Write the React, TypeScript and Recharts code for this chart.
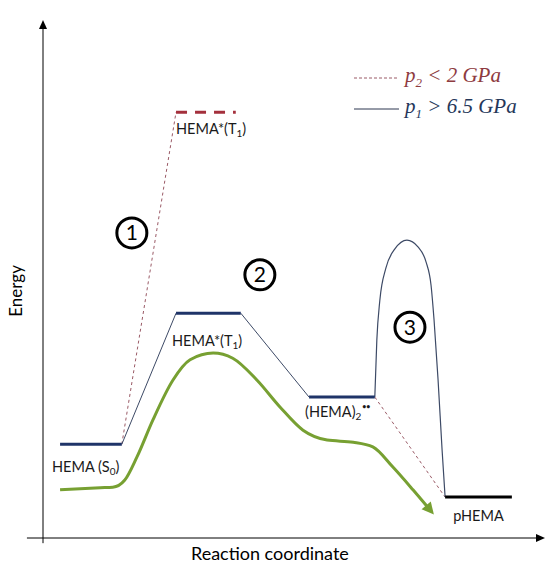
import React from 'react';
import { ComposedChart, Line, XAxis, YAxis, ReferenceLine, ReferenceDot, Legend } from 'recharts';

// energy levels (reaction coordinate 0-100, energy 0-100)
const levelS0 = [{ x: 3.4, y: 18.1 }, { x: 15.7, y: 18.1 }];
const levelT1 = [{ x: 26.5, y: 43.4 }, { x: 39.4, y: 43.4 }];
const levelT1LowP = [{ x: 26.5, y: 82.2 }, { x: 38.4, y: 82.2 }];
const levelDimer = [{ x: 53.0, y: 27.2 }, { x: 66.1, y: 27.2 }];
const levelPoly = [{ x: 80.1, y: 7.9 }, { x: 93.4, y: 7.9 }];

// p1 > 6.5 GPa path
const p1Rise = [{ x: 15.7, y: 18.1 }, { x: 26.5, y: 43.4 }];
const p1Drop = [{ x: 39.4, y: 43.4 }, { x: 53.0, y: 27.2 }];
const p1Barrier = [
  { x: 66.1, y: 27.2 }, { x: 66.5, y: 38.2 }, { x: 67.1, y: 45.9 }, { x: 68.3, y: 52.1 },
  { x: 70.1, y: 55.8 }, { x: 72.5, y: 57.5 }, { x: 74.7, y: 56.2 }, { x: 76.3, y: 53.3 },
  { x: 77.3, y: 48.8 }, { x: 77.9, y: 42.1 }, { x: 78.7, y: 30.5 }, { x: 79.5, y: 17.0 },
  { x: 80.1, y: 7.9 },
];

// p2 < 2 GPa path
const p2Rise = [{ x: 15.7, y: 18.1 }, { x: 26.5, y: 82.2 }];
const p2Drop = [{ x: 66.1, y: 27.2 }, { x: 80.1, y: 7.9 }];

// overall pathway (green)
const pathway = [
  { x: 3.4, y: 9.3 }, { x: 11.4, y: 9.7 }, { x: 13.9, y: 9.8 }, { x: 16.3, y: 11.2 },
  { x: 18.7, y: 15.6 }, { x: 21.9, y: 22.8 }, { x: 25.9, y: 30.5 }, { x: 29.3, y: 34.4 },
  { x: 33.9, y: 35.7 }, { x: 37.8, y: 34.7 }, { x: 42.6, y: 30.5 }, { x: 47.2, y: 25.3 },
  { x: 51.8, y: 20.8 }, { x: 56.6, y: 18.9 }, { x: 61.8, y: 18.5 }, { x: 65.7, y: 17.6 },
  { x: 69.7, y: 13.7 }, { x: 73.7, y: 9.3 }, { x: 77.1, y: 5.4 },
];

const steps = [
  { n: '1', x: 17.7, y: 58.9 },
  { n: '2', x: 43.2, y: 50.8 },
  { n: '3', x: 73.1, y: 40.7 },
];

const stateLabels = [
  { name: 'HEMA*(T', sub: '1', tail: ')', x: 26.5, y: 78.0 },
  { name: 'HEMA*(T', sub: '1', tail: ')', x: 25.7, y: 37.1 },
  { name: 'HEMA (S', sub: '0', tail: ')', x: 1.8, y: 12.7 },
  { name: '(HEMA)', sub: '2', tail: '', dots: true, x: 52.2, y: 23.4 },
  { name: 'pHEMA', sub: '', tail: '', x: 81.7, y: 3.3 },
];

const legendItems = [
  { p: 'p', sub: '2', rest: ' < 2 GPa', dashed: true, color: '#8e3b40', line: '#9a5a66' },
  { p: 'p', sub: '1', rest: ' > 6.5 GPa', dashed: false, color: '#25375a', line: '#2c3650' },
];

const NAVY = '#1f3468';
const THIN = '#3d4a66';
const DASH = '#9a5a66';
const GREEN = '#77a032';
const SANS = 'Lato, "Open Sans", sans-serif';

const LegendBox = () => (
  <div style={{ fontFamily: '"Liberation Serif", serif', fontStyle: 'italic', fontSize: 21 }}>
    {legendItems.map((it) => (
      <div key={it.sub} style={{ display: 'flex', alignItems: 'center', height: 31 }}>
        <svg width={50} height={10} style={{ marginRight: 5 }}>
          <line x1={4} y1={5} x2={49} y2={5} stroke={it.line} strokeWidth={1}
            strokeDasharray={it.dashed ? '3 2' : undefined} />
        </svg>
        <span style={{ color: it.color }}>
          {it.p}<sub style={{ fontSize: 13 }}>{it.sub}</sub>{it.rest}
        </span>
      </div>
    ))}
  </div>
);

export default function App() {
  return (
    <div style={{ position: 'absolute', left: 0, top: 0, background: '#fff' }}>
      <ComposedChart width={546} height={566} margin={{ top: 20, right: 1, bottom: 28, left: 43 }}>
        <XAxis type="number" dataKey="x" domain={[0, 100]} hide allowDataOverflow />
        <YAxis type="number" dataKey="y" domain={[0, 100]} hide allowDataOverflow />
        <Legend layout="vertical" align="center" verticalAlign="middle" content={<LegendBox />}
          wrapperStyle={{ position: 'absolute', left: 350, top: 62, width: 196, height: 62 }} />

        {/* axes */}
        <ReferenceLine segment={[{ x: -3.2, y: 0 }, { x: 99, y: 0 }]} stroke="#000" strokeWidth={1} ifOverflow="visible" />
        <ReferenceLine segment={[{ x: 0, y: -1 }, { x: 0, y: 98.5 }]} stroke="#000" strokeWidth={1} ifOverflow="visible" />
        <ReferenceDot x={100} y={0} ifOverflow="visible"
          shape={(p: any) => <polygon points={`${p.cx},${p.cy} ${p.cx - 9},${p.cy - 4} ${p.cx - 9},${p.cy + 4}`} fill="#000" />} />
        <ReferenceDot x={0} y={100} ifOverflow="visible"
          shape={(p: any) => <polygon points={`${p.cx},${p.cy} ${p.cx - 4},${p.cy + 9} ${p.cx + 4},${p.cy + 9}`} fill="#000" />} />

        {/* pathway */}
        <Line data={pathway} dataKey="y" type="monotone" stroke={GREEN} strokeWidth={3} dot={false} isAnimationActive={false} legendType="none" />
        <ReferenceDot x={77.1} y={5.4} ifOverflow="visible"
          shape={(p: any) => (
            <polygon transform={`rotate(50 ${p.cx} ${p.cy})`}
              points={`${p.cx + 6},${p.cy} ${p.cx - 6},${p.cy - 6} ${p.cx - 6},${p.cy + 6}`} fill={GREEN} />
          )} />

        {/* p2 dashed */}
        <Line data={p2Rise} dataKey="y" type="linear" stroke={DASH} strokeWidth={1} strokeDasharray="3 3" dot={false} isAnimationActive={false} legendType="none" />
        <Line data={p2Drop} dataKey="y" type="linear" stroke={DASH} strokeWidth={1} strokeDasharray="3 3" dot={false} isAnimationActive={false} legendType="none" />
        <Line data={levelT1LowP} dataKey="y" type="linear" stroke="#a4303c" strokeWidth={3} strokeDasharray="11 8" dot={false} isAnimationActive={false} legendType="none" />

        {/* p1 solid */}
        <Line data={p1Rise} dataKey="y" type="linear" stroke={THIN} strokeWidth={1} dot={false} isAnimationActive={false} legendType="none" />
        <Line data={p1Drop} dataKey="y" type="linear" stroke={THIN} strokeWidth={1} dot={false} isAnimationActive={false} legendType="none" />
        <Line data={p1Barrier} dataKey="y" type="monotone" stroke={THIN} strokeWidth={1.2} dot={false} isAnimationActive={false} legendType="none" />

        {/* levels */}
        <Line data={levelS0} dataKey="y" stroke={NAVY} strokeWidth={3} dot={false} isAnimationActive={false} legendType="none" />
        <Line data={levelT1} dataKey="y" stroke={NAVY} strokeWidth={3} dot={false} isAnimationActive={false} legendType="none" />
        <Line data={levelDimer} dataKey="y" stroke={NAVY} strokeWidth={3} dot={false} isAnimationActive={false} legendType="none" />
        <Line data={levelPoly} dataKey="y" stroke="#000" strokeWidth={3} dot={false} isAnimationActive={false} legendType="none" />

        {/* state labels */}
        {stateLabels.map((s, i) => (
          <ReferenceDot key={i} x={s.x} y={s.y} ifOverflow="visible"
            shape={(p: any) => (
              <text x={p.cx} y={p.cy} fontFamily={SANS} fontSize={14.5} fill="#1a1a1a">
                {s.name}
                {s.sub && <tspan fontSize={10} dy={3}>{s.sub}</tspan>}
                {s.dots && <tspan fontSize={7} dy={-11} dx={1} fontWeight="bold">{'••'}</tspan>}
                {s.tail && <tspan dy={-3}>{s.tail}</tspan>}
              </text>
            )} />
        ))}

        {/* step markers */}
        {steps.map((s) => (
          <ReferenceDot key={s.n} x={s.x} y={s.y} ifOverflow="visible"
            shape={(p: any) => (
              <g>
                <circle cx={p.cx} cy={p.cy} r={15} fill="#fff" stroke="#000" strokeWidth={3} />
                <text x={p.cx} y={p.cy + 7.5} textAnchor="middle" fontFamily={SANS} fontSize={21} fill="#000">{s.n}</text>
              </g>
            )} />
        ))}

        {/* axis titles */}
        <ReferenceDot x={-4.2} y={47.7} ifOverflow="visible"
          shape={(p: any) => (
            <text x={p.cx} y={p.cy} transform={`rotate(-90 ${p.cx} ${p.cy})`} textAnchor="middle"
              fontFamily={SANS} fontSize={17} fill="#000">Energy</text>
          )} />
        <ReferenceDot x={45.2} y={-4.3} ifOverflow="visible"
          shape={(p: any) => (
            <text x={p.cx} y={p.cy} textAnchor="middle" fontFamily={SANS} fontSize={18} fill="#000">Reaction coordinate</text>
          )} />
      </ComposedChart>
    </div>
  );
}
